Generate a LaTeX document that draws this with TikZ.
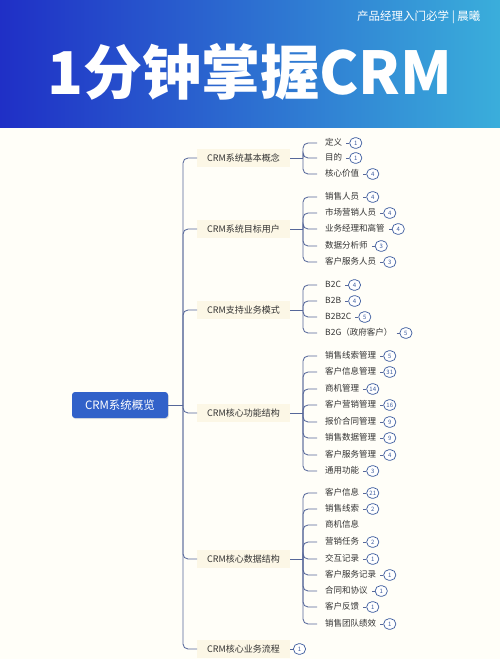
\documentclass[tikz,border=0pt]{standalone}
\usepackage{fontspec}
\setmainfont{Noto Sans CJK SC}
\usetikzlibrary{positioning,shadows}

\definecolor{linkcol}{HTML}{56679A}
\definecolor{rootblue}{HTML}{3161C9}
\definecolor{topblue}{HTML}{1F2FC6}
\definecolor{skyblue}{HTML}{3AAEDB}
\definecolor{paper}{HTML}{FFFEF8}
\definecolor{topiccream}{HTML}{FCF7E6}
\definecolor{inkgray}{HTML}{333333}
\definecolor{countblue}{HTML}{3B5B9E}

\begin{document}
\begin{tikzpicture}[x=1pt,y=-1pt,
    link/.style={draw=linkcol, line width=0.85pt},
    fork/.style={link, rounded corners=5pt},
    twig/.style={fork, shorten >=4pt},
    rootbox/.style={fill=rootblue, text=white, rounded corners=3pt,
        minimum width=96pt, minimum height=26pt,
        font=\fontsize{11.5}{11.5}\selectfont,
        drop shadow={opacity=0.2, shadow xshift=0.8pt, shadow yshift=-1.2pt}},
    topic/.style={anchor=west, fill=topiccream, text=inkgray, inner xsep=10pt,
        minimum height=18pt, font=\fontsize{9}{9}\selectfont},
    leaf/.style={anchor=west, text=inkgray, inner xsep=4pt, inner ysep=1pt,
        text height=7pt, text depth=1.5pt, font=\fontsize{8.5}{8.5}\selectfont},
    badge/.style={draw=countblue, text=countblue, fill=white, rounded corners=5pt,
        line width=0.7pt, minimum height=10.5pt, minimum width=12pt, inner sep=1.2pt,
        font=\fontsize{6}{6}\selectfont},
]
    % banner and paper
    \shade[left color=topblue, right color=skyblue] (0,0) rectangle (500,128);
    \fill[paper] (0,128) rectangle (500,659);
    \useasboundingbox (0,0) rectangle (500,659);

    \node[text=white, font=\fontsize{59}{59}\selectfont\bfseries] (title) at (250,72) {1分钟掌握CRM};
    \node[anchor=east, text=white, font=\fontsize{11.5}{11.5}\selectfont] (credit) at (484,17) {产品经理入门必学 | 晨曦};

    % root
    \node[rootbox] (root) at (120,405) {CRM系统概览};
    \coordinate (hub) at (183,405);
    \draw[link] (root) -- (hub);

    % main topics
    \node[topic] (basic) at (197,158) {CRM系统基本概念};
    \node[topic] (users) at (197,229) {CRM系统目标用户};
    \node[topic] (modes) at (197,310) {CRM支持业务模式};
    \node[topic] (funcs) at (197,413) {CRM核心功能结构};
    \node[topic] (data) at (197,559) {CRM核心数据结构};
    \node[topic] (flow) at (197,649) {CRM核心业务流程};
    \draw[fork] (hub) |- (basic);
    \draw[fork] (hub) |- (users);
    \draw[fork] (hub) |- (modes);
    \draw[fork] (hub) |- (funcs);
    \draw[fork] (hub) |- (data);
    \draw[fork] (hub) |- (flow);
    \node[badge, right=3pt of flow] (flown) {1};
    \draw[link] (flow) -- (flown);

    % basic concepts
    \coordinate (bs) at (303,158);
    \draw[link] (basic) -- (bs);
    \node[leaf] (b1) at (321,143) {定义};
    \node[leaf] (b2) at (321,158) {目的};
    \node[leaf] (b3) at (321,174) {核心价值};
    \draw[twig] (bs) |- (b1);
    \draw[twig] (bs) |- (b2);
    \draw[twig] (bs) |- (b3);
    \node[badge, right=3pt of b1] (b1n) {1};
    \node[badge, right=3pt of b2] (b2n) {1};
    \node[badge, right=3pt of b3] (b3n) {4};
    \draw[link] (b1) -- (b1n);
    \draw[link] (b2) -- (b2n);
    \draw[link] (b3) -- (b3n);

    % target users
    \coordinate (us) at (303,229);
    \draw[link] (users) -- (us);
    \node[leaf] (u1) at (321,197) {销售人员};
    \node[leaf] (u2) at (321,213) {市场营销人员};
    \node[leaf] (u3) at (321,229) {业务经理和高管};
    \node[leaf] (u4) at (321,246) {数据分析师};
    \node[leaf] (u5) at (321,262) {客户服务人员};
    \draw[twig] (us) |- (u1);
    \draw[twig] (us) |- (u2);
    \draw[twig] (us) |- (u3);
    \draw[twig] (us) |- (u4);
    \draw[twig] (us) |- (u5);
    \node[badge, right=3pt of u1] (u1n) {4};
    \node[badge, right=3pt of u2] (u2n) {4};
    \node[badge, right=3pt of u3] (u3n) {4};
    \node[badge, right=3pt of u4] (u4n) {3};
    \node[badge, right=3pt of u5] (u5n) {3};
    \draw[link] (u1) -- (u1n);
    \draw[link] (u2) -- (u2n);
    \draw[link] (u3) -- (u3n);
    \draw[link] (u4) -- (u4n);
    \draw[link] (u5) -- (u5n);

    % business modes
    \coordinate (ms) at (303,310);
    \draw[link] (modes) -- (ms);
    \node[leaf] (m1) at (321,285) {B2C};
    \node[leaf] (m2) at (321,301) {B2B};
    \node[leaf] (m3) at (321,317) {B2B2C};
    \node[leaf] (m4) at (321,333) {B2G（政府客户）};
    \draw[twig] (ms) |- (m1);
    \draw[twig] (ms) |- (m2);
    \draw[twig] (ms) |- (m3);
    \draw[twig] (ms) |- (m4);
    \node[badge, right=3pt of m1] (m1n) {4};
    \node[badge, right=3pt of m2] (m2n) {4};
    \node[badge, right=3pt of m3] (m3n) {5};
    \node[badge, right=3pt of m4] (m4n) {5};
    \draw[link] (m1) -- (m1n);
    \draw[link] (m2) -- (m2n);
    \draw[link] (m3) -- (m3n);
    \draw[link] (m4) -- (m4n);

    % core functions
    \coordinate (fs) at (303,413);
    \draw[link] (funcs) -- (fs);
    \node[leaf] (f1) at (321,356) {销售线索管理};
    \node[leaf] (f2) at (321,372) {客户信息管理};
    \node[leaf] (f3) at (321,389) {商机管理};
    \node[leaf] (f4) at (321,405) {客户营销管理};
    \node[leaf] (f5) at (321,422) {报价合同管理};
    \node[leaf] (f6) at (321,438) {销售数据管理};
    \node[leaf] (f7) at (321,455) {客户服务管理};
    \node[leaf] (f8) at (321,471) {通用功能};
    \draw[twig] (fs) |- (f1);
    \draw[twig] (fs) |- (f2);
    \draw[twig] (fs) |- (f3);
    \draw[twig] (fs) |- (f4);
    \draw[twig] (fs) |- (f5);
    \draw[twig] (fs) |- (f6);
    \draw[twig] (fs) |- (f7);
    \draw[twig] (fs) |- (f8);
    \node[badge, right=3pt of f1] (f1n) {5};
    \node[badge, right=3pt of f2] (f2n) {31};
    \node[badge, right=3pt of f3] (f3n) {14};
    \node[badge, right=3pt of f4] (f4n) {16};
    \node[badge, right=3pt of f5] (f5n) {9};
    \node[badge, right=3pt of f6] (f6n) {9};
    \node[badge, right=3pt of f7] (f7n) {4};
    \node[badge, right=3pt of f8] (f8n) {3};
    \draw[link] (f1) -- (f1n);
    \draw[link] (f2) -- (f2n);
    \draw[link] (f3) -- (f3n);
    \draw[link] (f4) -- (f4n);
    \draw[link] (f5) -- (f5n);
    \draw[link] (f6) -- (f6n);
    \draw[link] (f7) -- (f7n);
    \draw[link] (f8) -- (f8n);

    % core data
    \coordinate (ds) at (303,559);
    \draw[link] (data) -- (ds);
    \node[leaf] (d1) at (321,493) {客户信息};
    \node[leaf] (d2) at (321,509) {销售线索};
    \node[leaf] (d3) at (321,525) {商机信息};
    \node[leaf] (d4) at (321,542) {营销任务};
    \node[leaf] (d5) at (321,559) {交互记录};
    \node[leaf] (d6) at (321,575) {客户服务记录};
    \node[leaf] (d7) at (321,591) {合同和协议};
    \node[leaf] (d8) at (321,607) {客户反馈};
    \node[leaf] (d9) at (321,624) {销售团队绩效};
    \draw[twig] (ds) |- (d1);
    \draw[twig] (ds) |- (d2);
    \draw[twig] (ds) |- (d3);
    \draw[twig] (ds) |- (d4);
    \draw[twig] (ds) |- (d5);
    \draw[twig] (ds) |- (d6);
    \draw[twig] (ds) |- (d7);
    \draw[twig] (ds) |- (d8);
    \draw[twig] (ds) |- (d9);
    \node[badge, right=3pt of d1] (d1n) {21};
    \node[badge, right=3pt of d2] (d2n) {2};
    \node[badge, right=3pt of d4] (d4n) {2};
    \node[badge, right=3pt of d5] (d5n) {1};
    \node[badge, right=3pt of d6] (d6n) {1};
    \node[badge, right=3pt of d7] (d7n) {1};
    \node[badge, right=3pt of d8] (d8n) {1};
    \node[badge, right=3pt of d9] (d9n) {1};
    \draw[link] (d1) -- (d1n);
    \draw[link] (d2) -- (d2n);
    \draw[link] (d4) -- (d4n);
    \draw[link] (d5) -- (d5n);
    \draw[link] (d6) -- (d6n);
    \draw[link] (d7) -- (d7n);
    \draw[link] (d8) -- (d8n);
    \draw[link] (d9) -- (d9n);
\end{tikzpicture}
\end{document}
